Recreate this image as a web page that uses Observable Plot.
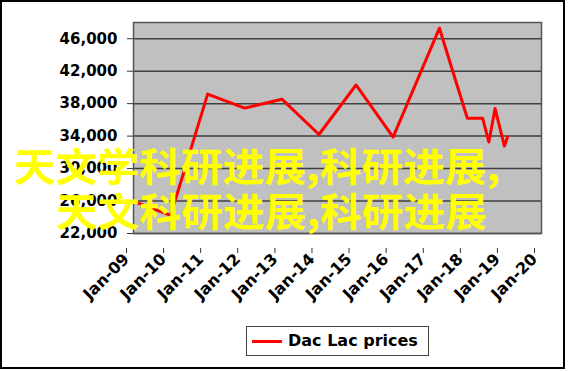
<!DOCTYPE html>
<html><head><meta charset="utf-8">
<script src="https://cdn.jsdelivr.net/npm/d3@7"></script>
<script src="https://cdn.jsdelivr.net/npm/@observablehq/plot@0.6"></script>
<style>
body{margin:0;background:#fff;}
#wrap{position:relative;width:572px;height:371px;overflow:hidden;background:#fff;}
#chart{position:absolute;left:0;top:0;}
#frame{position:absolute;left:0;top:0;width:561px;height:365px;border:2px solid #000;pointer-events:none;}
#legend{position:absolute;left:246px;top:326px;width:181px;height:28px;border:1px solid #444;background:#fff;}
#legend .sw{position:absolute;left:5px;top:13px;width:30px;height:3px;background:#FF0000;}
#legend .lb{position:absolute;left:41px;top:4px;font:bold 16px "DejaVu Sans";line-height:20px;color:#000;white-space:nowrap;}
.ov{position:absolute;font-family:"Noto Sans CJK SC";font-weight:bold;font-size:39px;line-height:39px;color:#FFFF00;white-space:nowrap;transform:scaleX(1.07);transform-origin:0 0;}
</style></head><body>
<div id="wrap"><div id="chart"></div><div id="frame"></div>
<div id="legend"><div class="sw"></div><div class="lb">Dac Lac prices</div></div>
<div class="ov" style="left:14px;top:145px;">天文学科研进展,科研进展,</div>
<div class="ov" style="left:56px;top:190px;">天文科研进展,科研进展</div>
</div>
<script>
const dates = ["2009-01-01","2010-01-01","2011-01-01","2012-01-01","2013-01-01","2014-01-01","2015-01-01","2016-01-01","2017-04-01","2018-01-01","2018-06-01","2018-08-01","2018-10-01","2019-01-01","2019-02-01"];
const prices = [25950,24240,39170,37450,38550,34200,40300,33880,47300,36200,36200,33270,37400,32780,33880];
const yTicks = [22000,26000,30000,34000,38000,42000,46000];
const xTickLabels = ["Jan-09","Jan-10","Jan-11","Jan-12","Jan-13","Jan-14","Jan-15","Jan-16","Jan-17","Jan-18","Jan-19","Jan-20"];
const seriesName = "Dac Lac prices";

const data = dates.map((d, i) => ({date: new Date(d + "T00:00:00Z"), price: prices[i]}));
const xTicks = xTickLabels.map(s => new Date(Date.UTC(2000 + +s.slice(4), 0, 1)));

const plot = Plot.plot({
  width: 572, height: 371,
  marginLeft: 133, marginRight: 31, marginTop: 22, marginBottom: 138,
  style: {fontFamily: "DejaVu Sans", fontWeight: "bold", fontSize: "15px", color: "#000", background: "transparent", overflow: "visible"},
  x: {type: "utc", domain: [xTicks[0], xTicks[xTicks.length - 1]]},
  y: {domain: [22000, 48000]},
  marks: [
    Plot.frame({fill: "#C0C0C0"}),
    Plot.gridY(yTicks, {stroke: "#404040", strokeOpacity: 1, strokeWidth: 1.5}),
    Plot.axisY(yTicks, {tickSize: 6, tickPadding: 10, tickFormat: d3.format(","), stroke: "#333", fontSize: 15, fontWeight: "bold", label: null}),
    Plot.axisX(xTicks, {tickSize: 5, tickPadding: 3, tickFormat: (d, i) => xTickLabels[i], tickRotate: -45, fontSize: 16, fontWeight: "bold", stroke: "#333", dx: -7, dy: 15, label: null}),
    Plot.line(data, {x: "date", y: "price", stroke: "#FF0000", strokeWidth: 3}),
    Plot.frame({stroke: "#555", strokeWidth: 1.5})
  ]
});
document.getElementById("chart").appendChild(plot);
</script>
</body></html>
